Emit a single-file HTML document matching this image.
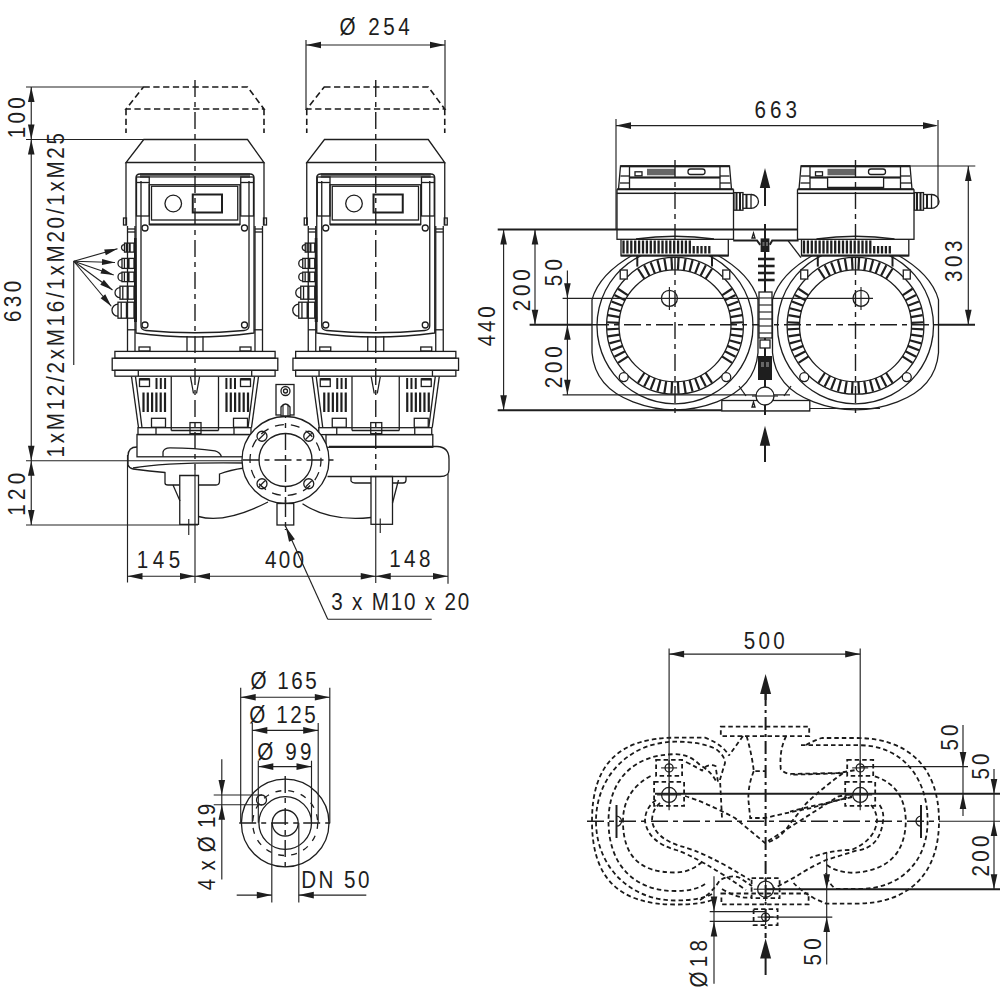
<!DOCTYPE html>
<html><head><meta charset="utf-8"><style>
html,body{margin:0;padding:0;background:#fff;}
svg{display:block;}
.t{fill:none;stroke:#1e1e1e;stroke-width:1.3;}
.tw{fill:#fff;stroke:#1e1e1e;stroke-width:1.3;}
.th{fill:none;stroke:#1e1e1e;stroke-width:2;}
.d{fill:none;stroke:#222;stroke-width:1.15;}
.c{fill:none;stroke:#1e1e1e;stroke-width:1.4;stroke-dasharray:17 5 5 5;}
.h{fill:none;stroke:#1a1a1a;stroke-width:1.8;stroke-dasharray:4.5 3;}
.g{fill:#666;stroke:none;}
.ch{fill:none;stroke:#1a1a1a;stroke-width:2;stroke-dasharray:13 4 3 4;}
.he{fill:none;stroke:#1a1a1a;stroke-width:1.6;stroke-dasharray:6.3 3.5;}
.ah{fill:#1e1e1e;stroke:none;}
.fb{fill:#1e1e1e;stroke:none;}
text{font-family:"Liberation Sans",sans-serif;fill:#1e1e1e;}
</style></head><body>
<svg width="1000" height="1000" viewBox="0 0 1000 1000">
<g id="motorL">
<path d="M143.5,87 L247.5,87 L264,109 L126,109 Z" class="he"/>
<line x1="126" y1="109" x2="126" y2="133" class="he"/>
<line x1="264" y1="109" x2="264" y2="133" class="he"/>
<path d="M143.75,139.5 L247.5,139.5 L264,162.5 L126,162.5 Z" class="t"/>
<line x1="126" y1="162.5" x2="126" y2="225" class="t"/>
<line x1="264" y1="162.5" x2="264" y2="225" class="t"/>
<rect x="123.5" y="218" width="3" height="7" class="t"/>
<rect x="263.5" y="218" width="3" height="7" class="t"/>
<line x1="127.5" y1="226" x2="127.5" y2="351" class="t"/>
<line x1="135" y1="226" x2="135" y2="351" class="t"/>
<line x1="255" y1="226" x2="255" y2="351" class="t"/>
<line x1="262.5" y1="226" x2="262.5" y2="351" class="t"/>
<line x1="127.5" y1="229" x2="135" y2="229" class="t"/>
<line x1="255" y1="229" x2="262.5" y2="229" class="t"/>
<line x1="127.5" y1="232" x2="135" y2="232" class="t"/>
<line x1="255" y1="232" x2="262.5" y2="232" class="t"/>
<path d="M136,333 L136,178 Q136,174 140,174 L250,174 Q254,174 254,178 L254,333 Q195,341 136,333 Z" class="t"/>
<path d="M141,181 L141,326 Q141,330 146,330.5 Q195,335 244,330.5 Q249,330 249,326 L249,181" class="t"/>
<rect x="140" y="174.2" width="110" height="3.6" class="g"/>
<line x1="140" y1="174.2" x2="250" y2="174.2" class="t"/>
<rect x="136.5" y="177" width="12.75" height="39" class="t"/>
<rect x="240.75" y="177" width="12.75" height="39" class="t"/>
<line x1="136.5" y1="182.5" x2="149.25" y2="182.5" class="t"/>
<line x1="240.75" y1="182.5" x2="253.5" y2="182.5" class="t"/>
<rect x="149.25" y="184.75" width="90.75" height="39.75" class="t"/>
<rect x="151.5" y="186.25" width="86.25" height="33.75" class="t"/>
<line x1="149.25" y1="224.5" x2="240" y2="224.5" class="th"/>
<circle cx="173.25" cy="203.5" r="8.3" class="t"/>
<rect x="192.75" y="194.5" width="29.25" height="18" class="th"/>
<circle cx="145" cy="228" r="3" class="t"/>
<circle cx="244.5" cy="228" r="3" class="t"/>
<circle cx="145" cy="325" r="3" class="t"/>
<circle cx="244.5" cy="325" r="3" class="t"/>
<line x1="187" y1="336" x2="187" y2="351" class="t"/>
<line x1="203" y1="336" x2="203" y2="351" class="t"/>
<rect x="139" y="347" width="11" height="4" class="t"/>
<rect x="240" y="347" width="11" height="4" class="t"/>
<path d="M124.5,244.6 A3,3 0 0 0 124.5,250.6" class="t"/>
<rect x="124.5" y="243.1" width="9.5" height="9" class="t"/>
<line x1="129.72" y1="243.1" x2="129.72" y2="252.1" class="th"/>
<line x1="126.4" y1="243.1" x2="126.4" y2="252.1" class="t"/>
<path d="M122,259.4 A4,4 0 0 0 122,267.4" class="t"/>
<rect x="122" y="258.4" width="12" height="10" class="t"/>
<line x1="128.6" y1="258.4" x2="128.6" y2="268.4" class="th"/>
<line x1="124.4" y1="258.4" x2="124.4" y2="268.4" class="t"/>
<path d="M122,272.9 A4,4 0 0 0 122,280.9" class="t"/>
<rect x="122" y="272.15" width="12" height="9.5" class="t"/>
<line x1="128.6" y1="272.15" x2="128.6" y2="281.65" class="th"/>
<line x1="124.4" y1="272.15" x2="124.4" y2="281.65" class="t"/>
<path d="M120,287.7 A5,5 0 0 0 120,297.7" class="t"/>
<rect x="120" y="286.2" width="14" height="13" class="t"/>
<line x1="127.7" y1="286.2" x2="127.7" y2="299.2" class="th"/>
<line x1="122.8" y1="286.2" x2="122.8" y2="299.2" class="t"/>
<path d="M118,304.2 A6,6 0 0 0 118,316.2" class="t"/>
<rect x="118" y="302.2" width="16" height="16" class="t"/>
<line x1="126.8" y1="302.2" x2="126.8" y2="318.2" class="th"/>
<line x1="121.2" y1="302.2" x2="121.2" y2="318.2" class="t"/>
<polygon points="134,238 136.5,238 137,322 134,322" class="fb"/>
<rect x="114.9" y="351.4" width="160.2" height="6.8" class="t"/>
<rect x="112.2" y="358.2" width="165.6" height="12.1" class="t"/>
<rect x="114.9" y="370.3" width="160.2" height="5.9" class="t"/>
<line x1="138.3" y1="370.3" x2="138.3" y2="376.2" class="t"/>
<line x1="251.7" y1="370.3" x2="251.7" y2="376.2" class="t"/>
<line x1="127.5" y1="329.8" x2="136" y2="329.8" class="t"/>
<line x1="254" y1="329.8" x2="262.5" y2="329.8" class="t"/>
<line x1="131.5" y1="376.6" x2="138.5" y2="427.7" class="t"/>
<line x1="135.5" y1="376.6" x2="142" y2="427.7" class="t"/>
<line x1="258.5" y1="376.6" x2="251.5" y2="427.7" class="t"/>
<line x1="254.5" y1="376.6" x2="248" y2="427.7" class="t"/>
<line x1="171.25" y1="376.6" x2="171.25" y2="430.5" class="t"/>
<line x1="218.5" y1="376.6" x2="218.5" y2="430.5" class="t"/>
<line x1="171.25" y1="430.5" x2="218.5" y2="430.5" class="t"/>
<line x1="143.5" y1="392.5" x2="143.5" y2="412" stroke="#1e1e1e" stroke-width="2.2"/>
<line x1="147.8" y1="392.5" x2="147.8" y2="412" stroke="#1e1e1e" stroke-width="2.2"/>
<line x1="152.1" y1="392.5" x2="152.1" y2="412" stroke="#1e1e1e" stroke-width="2.2"/>
<line x1="156.4" y1="392.5" x2="156.4" y2="412" stroke="#1e1e1e" stroke-width="2.2"/>
<line x1="160.7" y1="392.5" x2="160.7" y2="412" stroke="#1e1e1e" stroke-width="2.2"/>
<line x1="165" y1="392.5" x2="165" y2="412" stroke="#1e1e1e" stroke-width="2.2"/>
<line x1="156.5" y1="378" x2="156.5" y2="389" stroke="#1e1e1e" stroke-width="2"/>
<line x1="160.8" y1="378" x2="160.8" y2="389" stroke="#1e1e1e" stroke-width="2"/>
<line x1="165.1" y1="378" x2="165.1" y2="389" stroke="#1e1e1e" stroke-width="2"/>
<rect x="139.5" y="379" width="10" height="7.5" class="t"/>
<rect x="139.5" y="378" width="10" height="2.5" class="fb"/>
<rect x="151.5" y="418.3" width="14" height="9" class="t"/>
<line x1="248" y1="392.5" x2="248" y2="412" stroke="#1e1e1e" stroke-width="2.2"/>
<line x1="243.7" y1="392.5" x2="243.7" y2="412" stroke="#1e1e1e" stroke-width="2.2"/>
<line x1="239.4" y1="392.5" x2="239.4" y2="412" stroke="#1e1e1e" stroke-width="2.2"/>
<line x1="235.1" y1="392.5" x2="235.1" y2="412" stroke="#1e1e1e" stroke-width="2.2"/>
<line x1="230.8" y1="392.5" x2="230.8" y2="412" stroke="#1e1e1e" stroke-width="2.2"/>
<line x1="226.5" y1="392.5" x2="226.5" y2="412" stroke="#1e1e1e" stroke-width="2.2"/>
<line x1="235" y1="378" x2="235" y2="389" stroke="#1e1e1e" stroke-width="2"/>
<line x1="230.7" y1="378" x2="230.7" y2="389" stroke="#1e1e1e" stroke-width="2"/>
<line x1="226.4" y1="378" x2="226.4" y2="389" stroke="#1e1e1e" stroke-width="2"/>
<rect x="240.5" y="379" width="10" height="7.5" class="t"/>
<rect x="240.5" y="378" width="10" height="2.5" class="fb"/>
<rect x="233.5" y="418.3" width="14" height="9" class="t"/>
<line x1="190.5" y1="377" x2="193.5" y2="393.5" class="t"/>
<line x1="199.5" y1="377" x2="196.5" y2="393.5" class="t"/>
<rect x="138" y="427.7" width="113" height="6.9" class="t"/>
<line x1="156" y1="427.7" x2="156" y2="434.6" class="t"/>
<line x1="234" y1="427.7" x2="234" y2="434.6" class="t"/>
<rect x="190" y="422.6" width="11" height="11" class="t"/>
</g>
<use href="#motorL" transform="translate(180.75,0)"/>
<line x1="195" y1="80" x2="195" y2="470" class="c"/>
<line x1="375.75" y1="80" x2="375.75" y2="470" class="c"/>
<line x1="195" y1="470" x2="195" y2="583" class="d"/>
<line x1="375.75" y1="476" x2="375.75" y2="583" class="d"/>
<rect x="137" y="434.5" width="114" height="22.3" class="t"/>
<path d="M137,447 Q128,447 128,456 L128,465 Q129,468 133,469" class="t"/>
<path d="M163,456.8 L163,452 Q164,447.8 170,447.8 Q195,448 215,450.8 Q220,452 221.5,456.8" class="t"/>
<path d="M133,468 Q165,462 245,463" class="t"/>
<path d="M133,469 Q150,471 165,472.5 L165,483 Q165,485 168,485 L179.5,485" class="t"/>
<path d="M179.75,475.5 L179.75,524.3 L198.5,524.3 L198.5,475.5 Z" class="t"/>
<path d="M198.5,485 L216,485 Q219.5,485 219.5,481 L219.5,474 Q230,470 244,468" class="t"/>
<line x1="173" y1="485" x2="180" y2="501" class="t"/>
<path d="M198.5,516.5 Q225,524 268,502" class="t"/>
<line x1="188.75" y1="519" x2="188.75" y2="535" class="d"/>
<rect x="326" y="434.6" width="106.8" height="12.7" class="t"/>
<path d="M329,446.5 L437,446.5 Q449,447 449,459 L449,470 Q449,476.5 440,476.5 L327.5,476.5" class="t"/>
<path d="M351,476.5 L351,481 Q352,483 355,483 L371,483" class="t"/>
<rect x="371" y="476.5" width="21.5" height="47.8" class="t"/>
<path d="M392.5,483 L403,483 Q406,483 406,480 L406,476.5" class="t"/>
<line x1="398.5" y1="480" x2="392.5" y2="503" class="t"/>
<path d="M302.5,503.8 Q330,522 371,517.5" class="t"/>
<line x1="380.25" y1="518.4" x2="380.25" y2="533.1" class="d"/>
<circle cx="285.5" cy="460" r="43.5" class="tw"/>
<circle cx="285.5" cy="460" r="26.5" class="t"/>
<circle cx="285.5" cy="460" r="35.5" fill="none" stroke="#1e1e1e" stroke-width="1.3" stroke-dasharray="9 7" transform="rotate(20 285.5 460)"/>
<circle cx="262" cy="436.25" r="5" class="t"/>
<line x1="259" y1="439.25" x2="265" y2="433.25" class="d"/>
<circle cx="308.75" cy="436.25" r="5" class="t"/>
<line x1="305.75" y1="439.25" x2="311.75" y2="433.25" class="d"/>
<circle cx="262" cy="483.75" r="5" class="t"/>
<line x1="259" y1="486.75" x2="265" y2="480.75" class="d"/>
<circle cx="308.75" cy="483.75" r="5" class="t"/>
<line x1="305.75" y1="486.75" x2="311.75" y2="480.75" class="d"/>
<line x1="242.5" y1="460" x2="336" y2="460" class="c"/>
<line x1="285.5" y1="401" x2="285.5" y2="530" class="c"/>
<rect x="276" y="384.5" width="18" height="30.5" class="tw"/>
<circle cx="285.5" cy="391" r="4.5" class="t"/>
<circle cx="285.5" cy="391" r="2" class="t"/>
<path d="M281,416 L281,407 Q285.5,401 290,407 L290,416 Z" class="tw"/>
<line x1="283" y1="405" x2="283" y2="416" class="d"/>
<line x1="288" y1="405" x2="288" y2="416" class="d"/>
<rect x="277" y="503.5" width="16.75" height="21.5" class="tw"/>
<line x1="285.5" y1="500" x2="285.5" y2="530" class="c"/>
<line x1="26" y1="87" x2="143" y2="87" class="d"/>
<line x1="26" y1="139.5" x2="144" y2="139.5" class="d"/>
<line x1="26" y1="460.75" x2="242" y2="460.75" class="d"/>
<line x1="26" y1="525" x2="198" y2="525" class="d"/>
<line x1="31.25" y1="87" x2="31.25" y2="525" class="d"/>
<polygon points="31.25,87 27.95,102 34.55,102" class="ah"/>
<polygon points="31.25,139.5 27.95,124.5 34.55,124.5" class="ah"/>
<polygon points="31.25,139.5 27.95,154.5 34.55,154.5" class="ah"/>
<polygon points="31.25,460.75 27.95,445.75 34.55,445.75" class="ah"/>
<polygon points="31.25,460.75 27.95,475.75 34.55,475.75" class="ah"/>
<polygon points="31.25,525 27.95,510 34.55,510" class="ah"/>
<line x1="73.75" y1="261.25" x2="73.75" y2="365" class="d"/>
<line x1="73.75" y1="261.25" x2="117.5" y2="248.75" class="d"/>
<polygon points="117.5,248.75 105.82,255.21 104.18,249.44" class="ah"/>
<line x1="73.75" y1="261.25" x2="115" y2="262.5" class="d"/>
<polygon points="115,262.5 101.92,265.1 102.1,259.11" class="ah"/>
<line x1="73.75" y1="261.25" x2="113.75" y2="275" class="d"/>
<polygon points="113.75,275 100.48,273.61 102.43,267.94" class="ah"/>
<line x1="73.75" y1="261.25" x2="112.5" y2="290" class="d"/>
<polygon points="112.5,290 100.27,284.66 103.85,279.84" class="ah"/>
<line x1="73.75" y1="261.25" x2="111.25" y2="306.25" class="d"/>
<polygon points="111.25,306.25 100.62,298.18 105.23,294.34" class="ah"/>
<line x1="127.5" y1="455" x2="127.5" y2="582.5" class="d"/>
<line x1="448" y1="474" x2="448" y2="583.75" class="d"/>
<line x1="127.5" y1="576.25" x2="448" y2="576.25" class="d"/>
<polygon points="127.5,576.25 142.5,572.95 142.5,579.55" class="ah"/>
<polygon points="195,576.25 180,572.95 180,579.55" class="ah"/>
<polygon points="195,576.25 210,572.95 210,579.55" class="ah"/>
<polygon points="375.75,576.25 360.75,572.95 360.75,579.55" class="ah"/>
<polygon points="375.75,576.25 390.75,572.95 390.75,579.55" class="ah"/>
<polygon points="448,576.25 433,572.95 433,579.55" class="ah"/>
<line x1="306" y1="40" x2="306" y2="110" class="d"/>
<line x1="445" y1="40" x2="445" y2="110" class="d"/>
<line x1="306" y1="45" x2="445" y2="45" class="d"/>
<polygon points="306,45 321,41.7 321,48.3" class="ah"/>
<polygon points="445,45 430,41.7 430,48.3" class="ah"/>
<line x1="285.75" y1="526.8" x2="327.75" y2="619.2" class="d"/>
<line x1="327.75" y1="619.2" x2="431.7" y2="619.2" class="d"/>
<polygon points="285.75,526.8 294.87,539.13 289.04,541.78" class="ah"/>
<g id="motorT">
<path d="M635,253.8 Q599,273.8 592,299.8 L592,352.8 Q595,387.8 633,401.8 Q675,417.8 717,401.8 Q755,387.8 758,352.8 L758,299.8 Q751,273.8 715,253.8" class="t"/>
<path d="M707.96,255.11 A78,78 0 1 1 642.04,255.11" class="t"/>
<circle cx="675" cy="325.8" r="68.4" class="t"/>
<circle cx="675" cy="325.8" r="56" class="t"/>
<line x1="730.92" y1="328.73" x2="742.91" y2="329.36" stroke="#1e1e1e" stroke-width="2.2"/>
<line x1="730.31" y1="334.56" x2="742.16" y2="336.44" stroke="#1e1e1e" stroke-width="2.2"/>
<line x1="729.09" y1="340.29" x2="740.68" y2="343.4" stroke="#1e1e1e" stroke-width="2.2"/>
<line x1="727.28" y1="345.87" x2="738.48" y2="350.17" stroke="#1e1e1e" stroke-width="2.2"/>
<line x1="724.9" y1="351.22" x2="735.59" y2="356.67" stroke="#1e1e1e" stroke-width="2.2"/>
<line x1="721.97" y1="356.3" x2="732.03" y2="362.84" stroke="#1e1e1e" stroke-width="2.2"/>
<line x1="705.5" y1="372.77" x2="712.04" y2="382.83" stroke="#1e1e1e" stroke-width="2.2"/>
<line x1="700.42" y1="375.7" x2="705.87" y2="386.39" stroke="#1e1e1e" stroke-width="2.2"/>
<line x1="695.07" y1="378.08" x2="699.37" y2="389.28" stroke="#1e1e1e" stroke-width="2.2"/>
<line x1="689.49" y1="379.89" x2="692.6" y2="391.48" stroke="#1e1e1e" stroke-width="2.2"/>
<line x1="683.76" y1="381.11" x2="685.64" y2="392.96" stroke="#1e1e1e" stroke-width="2.2"/>
<line x1="677.93" y1="381.72" x2="678.56" y2="393.71" stroke="#1e1e1e" stroke-width="2.2"/>
<line x1="672.07" y1="381.72" x2="671.44" y2="393.71" stroke="#1e1e1e" stroke-width="2.2"/>
<line x1="666.24" y1="381.11" x2="664.36" y2="392.96" stroke="#1e1e1e" stroke-width="2.2"/>
<line x1="660.51" y1="379.89" x2="657.4" y2="391.48" stroke="#1e1e1e" stroke-width="2.2"/>
<line x1="654.93" y1="378.08" x2="650.63" y2="389.28" stroke="#1e1e1e" stroke-width="2.2"/>
<line x1="649.58" y1="375.7" x2="644.13" y2="386.39" stroke="#1e1e1e" stroke-width="2.2"/>
<line x1="644.5" y1="372.77" x2="637.96" y2="382.83" stroke="#1e1e1e" stroke-width="2.2"/>
<line x1="628.03" y1="356.3" x2="617.97" y2="362.84" stroke="#1e1e1e" stroke-width="2.2"/>
<line x1="625.1" y1="351.22" x2="614.41" y2="356.67" stroke="#1e1e1e" stroke-width="2.2"/>
<line x1="622.72" y1="345.87" x2="611.52" y2="350.17" stroke="#1e1e1e" stroke-width="2.2"/>
<line x1="620.91" y1="340.29" x2="609.32" y2="343.4" stroke="#1e1e1e" stroke-width="2.2"/>
<line x1="619.69" y1="334.56" x2="607.84" y2="336.44" stroke="#1e1e1e" stroke-width="2.2"/>
<line x1="619.08" y1="328.73" x2="607.09" y2="329.36" stroke="#1e1e1e" stroke-width="2.2"/>
<line x1="619.08" y1="322.87" x2="607.09" y2="322.24" stroke="#1e1e1e" stroke-width="2.2"/>
<line x1="619.69" y1="317.04" x2="607.84" y2="315.16" stroke="#1e1e1e" stroke-width="2.2"/>
<line x1="620.91" y1="311.31" x2="609.32" y2="308.2" stroke="#1e1e1e" stroke-width="2.2"/>
<line x1="622.72" y1="305.73" x2="611.52" y2="301.43" stroke="#1e1e1e" stroke-width="2.2"/>
<line x1="625.1" y1="300.38" x2="614.41" y2="294.93" stroke="#1e1e1e" stroke-width="2.2"/>
<line x1="628.03" y1="295.3" x2="617.97" y2="288.76" stroke="#1e1e1e" stroke-width="2.2"/>
<line x1="644.5" y1="278.83" x2="637.96" y2="268.77" stroke="#1e1e1e" stroke-width="2.2"/>
<line x1="649.58" y1="275.9" x2="644.13" y2="265.21" stroke="#1e1e1e" stroke-width="2.2"/>
<line x1="654.93" y1="273.52" x2="650.63" y2="262.32" stroke="#1e1e1e" stroke-width="2.2"/>
<line x1="660.51" y1="271.71" x2="657.4" y2="260.12" stroke="#1e1e1e" stroke-width="2.2"/>
<line x1="666.24" y1="270.49" x2="664.36" y2="258.64" stroke="#1e1e1e" stroke-width="2.2"/>
<line x1="672.07" y1="269.88" x2="671.44" y2="257.89" stroke="#1e1e1e" stroke-width="2.2"/>
<line x1="677.93" y1="269.88" x2="678.56" y2="257.89" stroke="#1e1e1e" stroke-width="2.2"/>
<line x1="683.76" y1="270.49" x2="685.64" y2="258.64" stroke="#1e1e1e" stroke-width="2.2"/>
<line x1="689.49" y1="271.71" x2="692.6" y2="260.12" stroke="#1e1e1e" stroke-width="2.2"/>
<line x1="695.07" y1="273.52" x2="699.37" y2="262.32" stroke="#1e1e1e" stroke-width="2.2"/>
<line x1="700.42" y1="275.9" x2="705.87" y2="265.21" stroke="#1e1e1e" stroke-width="2.2"/>
<line x1="705.5" y1="278.83" x2="712.04" y2="268.77" stroke="#1e1e1e" stroke-width="2.2"/>
<line x1="721.97" y1="295.3" x2="732.03" y2="288.76" stroke="#1e1e1e" stroke-width="2.2"/>
<line x1="724.9" y1="300.38" x2="735.59" y2="294.93" stroke="#1e1e1e" stroke-width="2.2"/>
<line x1="727.28" y1="305.73" x2="738.48" y2="301.43" stroke="#1e1e1e" stroke-width="2.2"/>
<line x1="729.09" y1="311.31" x2="740.68" y2="308.2" stroke="#1e1e1e" stroke-width="2.2"/>
<line x1="730.31" y1="317.04" x2="742.16" y2="315.16" stroke="#1e1e1e" stroke-width="2.2"/>
<line x1="730.92" y1="322.87" x2="742.91" y2="322.24" stroke="#1e1e1e" stroke-width="2.2"/>
<rect x="620.23" y="270.03" width="7" height="9" class="tw"/>
<rect x="722.77" y="270.03" width="7" height="9" class="tw"/>
<circle cx="623.73" cy="377.07" r="4.5" class="tw"/>
<circle cx="726.27" cy="377.07" r="4.5" class="tw"/>
<rect x="621" y="239.3" width="107.3" height="16.5" class="tw"/>
<line x1="623.5" y1="240.5" x2="623.5" y2="253.5" stroke="#1e1e1e" stroke-width="2.3"/>
<line x1="627.4" y1="240.5" x2="627.4" y2="253.5" stroke="#1e1e1e" stroke-width="2.3"/>
<line x1="631.3" y1="240.5" x2="631.3" y2="253.5" stroke="#1e1e1e" stroke-width="2.3"/>
<line x1="635.2" y1="240.5" x2="635.2" y2="253.5" stroke="#1e1e1e" stroke-width="2.3"/>
<line x1="639.1" y1="240.5" x2="639.1" y2="253.5" stroke="#1e1e1e" stroke-width="2.3"/>
<line x1="643" y1="240.5" x2="643" y2="253.5" stroke="#1e1e1e" stroke-width="2.3"/>
<line x1="646.9" y1="240.5" x2="646.9" y2="253.5" stroke="#1e1e1e" stroke-width="2.3"/>
<line x1="650.8" y1="240.5" x2="650.8" y2="253.5" stroke="#1e1e1e" stroke-width="2.3"/>
<line x1="654.7" y1="240.5" x2="654.7" y2="253.5" stroke="#1e1e1e" stroke-width="2.3"/>
<line x1="658.6" y1="240.5" x2="658.6" y2="253.5" stroke="#1e1e1e" stroke-width="2.3"/>
<line x1="662.5" y1="240.5" x2="662.5" y2="253.5" stroke="#1e1e1e" stroke-width="2.3"/>
<line x1="666.4" y1="240.5" x2="666.4" y2="253.5" stroke="#1e1e1e" stroke-width="2.3"/>
<line x1="670.3" y1="240.5" x2="670.3" y2="253.5" stroke="#1e1e1e" stroke-width="2.3"/>
<line x1="674.2" y1="240.5" x2="674.2" y2="253.5" stroke="#1e1e1e" stroke-width="2.3"/>
<line x1="678.1" y1="240.5" x2="678.1" y2="253.5" stroke="#1e1e1e" stroke-width="2.3"/>
<line x1="682" y1="240.5" x2="682" y2="253.5" stroke="#1e1e1e" stroke-width="2.3"/>
<line x1="685.9" y1="240.5" x2="685.9" y2="253.5" stroke="#1e1e1e" stroke-width="2.3"/>
<line x1="689.8" y1="240.5" x2="689.8" y2="253.5" stroke="#1e1e1e" stroke-width="2.3"/>
<line x1="693.7" y1="246" x2="693.7" y2="253.5" stroke="#1e1e1e" stroke-width="2.3"/>
<line x1="697.6" y1="246" x2="697.6" y2="253.5" stroke="#1e1e1e" stroke-width="2.3"/>
<line x1="701.5" y1="246" x2="701.5" y2="253.5" stroke="#1e1e1e" stroke-width="2.3"/>
<line x1="705.4" y1="246" x2="705.4" y2="253.5" stroke="#1e1e1e" stroke-width="2.3"/>
<line x1="709.3" y1="246" x2="709.3" y2="253.5" stroke="#1e1e1e" stroke-width="2.3"/>
<line x1="621" y1="255.5" x2="728.3" y2="255.5" class="th"/>
<line x1="637.3" y1="255" x2="637.3" y2="266.6" class="th"/>
<line x1="712" y1="255" x2="712" y2="266.6" class="th"/>
<rect x="617" y="193.4" width="116.5" height="45.9" class="tw"/>
<path d="M620.5,165.9 L729.5,165.9 L731.5,189.2 L618.5,189.2 Z" class="tw"/>
<line x1="617" y1="189.2" x2="733.5" y2="189.2" class="th"/>
<line x1="617" y1="193.4" x2="733.5" y2="193.4" class="t"/>
<path d="M617,189.2 L617,193.4 M733.5,189.2 L733.5,193.4" class="t"/>
<rect x="629.5" y="166.5" width="90.5" height="11" class="t"/>
<line x1="629.5" y1="177.5" x2="720" y2="177.5" class="th"/>
<line x1="620.5" y1="166.3" x2="729.5" y2="166.3" class="th"/>
<line x1="629.5" y1="177.5" x2="629.5" y2="189.2" class="t"/>
<line x1="720" y1="177.5" x2="720" y2="189.2" class="t"/>
<line x1="620.5" y1="176" x2="629.5" y2="176" class="t"/>
<line x1="720" y1="176" x2="729.5" y2="176" class="t"/>
<line x1="620" y1="183" x2="629.5" y2="183" class="t"/>
<line x1="720" y1="183" x2="730.5" y2="183" class="t"/>
<rect x="635" y="171.8" width="7" height="4" class="t"/>
<rect x="647" y="168.8" width="28" height="6.5" class="g"/>
<rect x="688" y="169" width="17" height="5.5" class="t" rx="2.5"/>
<path d="M636,239 Q675,233.5 714,239" class="t"/>
<rect x="734" y="192.6" width="9" height="17.6" class="tw"/>
<rect x="743" y="194.5" width="8" height="13.8" class="tw"/>
<path d="M751,194.5 A7.5,6.9 0 0 1 751,208.3" class="t"/>
<line x1="736.5" y1="192.6" x2="736.5" y2="210.2" class="th"/>
<line x1="740" y1="192.6" x2="740" y2="210.2" class="th"/>
<line x1="746.5" y1="194.5" x2="746.5" y2="208.3" class="th"/>
</g>
<use href="#motorT" transform="translate(180.5,0)"/>
<rect x="827.6" y="177.4" width="56" height="10.4" class="tw"/>
<line x1="827.6" y1="187.8" x2="883.6" y2="187.8" class="th"/>
<circle cx="669.4" cy="298.3" r="8" class="t"/>
<line x1="669.4" y1="287" x2="669.4" y2="310" class="d"/>
<circle cx="861" cy="298.3" r="8" class="t"/>
<line x1="861" y1="287" x2="861" y2="310" class="d"/>
<line x1="675" y1="258" x2="675" y2="415" class="c"/>
<line x1="855.5" y1="258" x2="855.5" y2="415" class="c"/>
<line x1="675" y1="160" x2="675" y2="240" class="c"/>
<line x1="855.5" y1="160" x2="855.5" y2="240" class="c"/>
<line x1="497.7" y1="229.5" x2="797" y2="229.5" class="th"/>
<line x1="562.6" y1="298.3" x2="873" y2="298.3" class="d"/>
<line x1="529.6" y1="324.8" x2="592" y2="324.8" class="th"/>
<line x1="592" y1="324.8" x2="938" y2="324.8" class="c"/>
<line x1="938" y1="324.8" x2="975" y2="324.8" class="th"/>
<line x1="562.6" y1="394.8" x2="790" y2="394.8" class="d"/>
<line x1="497.7" y1="410.2" x2="810" y2="410.2" class="th"/>
<line x1="810" y1="408.5" x2="880" y2="408.5" class="d"/>
<rect x="721.8" y="400.5" width="88" height="10.4" class="tw"/>
<line x1="765" y1="224" x2="765" y2="415" class="th"/>
<path d="M733.2,240.4 L757,240.4 L760.2,244.8 M769.8,244.8 L772.2,240.4 L798.6,240.4" class="th"/>
<rect x="760.6" y="238.4" width="8.8" height="13.6" class="fb"/>
<rect x="762.5" y="242" width="2" height="4" class="g"/>
<rect x="766" y="242" width="2" height="4" class="g"/>
<path d="M752,238 L753.5,233 L755,238 Z" class="t"/>
<line x1="758" y1="259" x2="774.6" y2="259" stroke="#1e1e1e" stroke-width="2.6"/>
<line x1="758" y1="266" x2="774.6" y2="266" stroke="#1e1e1e" stroke-width="2.6"/>
<line x1="758" y1="273" x2="774.6" y2="273" stroke="#1e1e1e" stroke-width="2.6"/>
<line x1="758" y1="280" x2="774.6" y2="280" stroke="#1e1e1e" stroke-width="2.6"/>
<line x1="788.2" y1="240.8" x2="801" y2="257.6" class="t"/>
<rect x="759" y="292" width="13" height="46" class="tw"/>
<line x1="759" y1="298" x2="772" y2="298" class="d"/>
<line x1="759" y1="305" x2="772" y2="305" class="d"/>
<line x1="759" y1="312" x2="772" y2="312" class="d"/>
<line x1="759" y1="319" x2="772" y2="319" class="d"/>
<line x1="759" y1="326" x2="772" y2="326" class="d"/>
<line x1="759" y1="333" x2="772" y2="333" class="d"/>
<rect x="760" y="340" width="10" height="8" class="tw"/>
<rect x="758" y="356" width="14" height="24" class="fb"/>
<rect x="761" y="362" width="3" height="5" class="g"/>
<rect x="766" y="362" width="3" height="5" class="g"/>
<circle cx="765" cy="396" r="9" class="tw"/>
<line x1="752" y1="396" x2="778" y2="396" class="d"/>
<line x1="739" y1="386" x2="746" y2="396" class="t"/>
<line x1="791" y1="386" x2="784" y2="396" class="t"/>
<path d="M752,407 L753.5,402 L755,407 Z" class="t"/>
<polygon points="765,168 759.8,188 770.2,188" class="ah"/>
<line x1="765" y1="185" x2="765" y2="206" class="th"/>
<polygon points="765,425.8 759.8,445.8 770.2,445.8" class="ah"/>
<line x1="765" y1="440" x2="765" y2="462" class="th"/>
<line x1="616" y1="119" x2="616" y2="229.5" class="d"/>
<line x1="938" y1="120" x2="938" y2="204.4" class="d"/>
<line x1="616" y1="125.6" x2="936.3" y2="125.6" class="d"/>
<polygon points="616,125.6 631,122.3 631,128.9" class="ah"/>
<polygon points="938,125.6 923,122.3 923,128.9" class="ah"/>
<line x1="890" y1="166" x2="975.3" y2="166" class="d"/>
<line x1="968.3" y1="166" x2="968.3" y2="324.8" class="d"/>
<polygon points="968.3,166 965,181 971.6,181" class="ah"/>
<polygon points="968.3,324.8 965,309.8 971.6,309.8" class="ah"/>
<line x1="503.6" y1="229.5" x2="503.6" y2="410.2" class="d"/>
<polygon points="503.6,229.5 500.3,244.5 506.9,244.5" class="ah"/>
<polygon points="503.6,410.2 500.3,395.2 506.9,395.2" class="ah"/>
<line x1="535" y1="229.5" x2="535" y2="324.8" class="d"/>
<polygon points="535,229.5 531.7,244.5 538.3,244.5" class="ah"/>
<polygon points="535,324.8 531.7,309.8 538.3,309.8" class="ah"/>
<line x1="567.4" y1="270.6" x2="567.4" y2="394.8" class="d"/>
<polygon points="567.4,298.3 564.1,283.3 570.7,283.3" class="ah"/>
<polygon points="567.4,324.8 564.1,339.8 570.7,339.8" class="ah"/>
<polygon points="567.4,394.8 564.1,379.8 570.7,379.8" class="ah"/>
<circle cx="285.2" cy="823" r="43.8" class="t"/>
<circle cx="285.2" cy="823" r="26.3" class="t"/>
<circle cx="285.2" cy="823" r="13" class="t"/>
<circle cx="285.2" cy="823" r="32.5" fill="none" stroke="#1e1e1e" stroke-width="1.3" stroke-dasharray="6 7"/>
<circle cx="261.5" cy="800" r="5" class="t"/>
<line x1="239.2" y1="823" x2="331.2" y2="823" class="c"/>
<line x1="285.2" y1="776" x2="285.2" y2="870" class="c"/>
<line x1="240.7" y1="687.8" x2="240.7" y2="822.8" class="d"/>
<line x1="329.8" y1="687.8" x2="329.8" y2="822.8" class="d"/>
<line x1="240.7" y1="697.2" x2="329.8" y2="697.2" class="d"/>
<polygon points="240.7,697.2 255.7,693.9 255.7,700.5" class="ah"/>
<polygon points="329.8,697.2 314.8,693.9 314.8,700.5" class="ah"/>
<line x1="252.3" y1="722.9" x2="252.3" y2="822.8" class="d"/>
<line x1="318.2" y1="722.9" x2="318.2" y2="822.8" class="d"/>
<line x1="252.3" y1="730.4" x2="318.2" y2="730.4" class="d"/>
<polygon points="252.3,730.4 267.3,727.1 267.3,733.7" class="ah"/>
<polygon points="318.2,730.4 303.2,727.1 303.2,733.7" class="ah"/>
<line x1="258.3" y1="760.7" x2="258.3" y2="822.8" class="d"/>
<line x1="311.5" y1="760.7" x2="311.5" y2="822.8" class="d"/>
<line x1="258.3" y1="766.6" x2="311.5" y2="766.6" class="d"/>
<polygon points="258.3,766.6 273.3,763.3 273.3,769.9" class="ah"/>
<polygon points="311.5,766.6 296.5,763.3 296.5,769.9" class="ah"/>
<line x1="213.7" y1="795" x2="262" y2="795" class="d"/>
<line x1="213.7" y1="804.7" x2="262" y2="804.7" class="d"/>
<line x1="221.8" y1="759.3" x2="221.8" y2="879.5" class="d"/>
<polygon points="221.8,795 218.5,780 225.1,780" class="ah"/>
<polygon points="221.8,804.7 218.5,819.7 225.1,819.7" class="ah"/>
<line x1="271.8" y1="822.8" x2="271.8" y2="902.4" class="d"/>
<line x1="298.8" y1="822.8" x2="298.8" y2="902.4" class="d"/>
<line x1="236.7" y1="895.1" x2="271.8" y2="895.1" class="d"/>
<line x1="298.8" y1="895.1" x2="366.3" y2="895.1" class="d"/>
<polygon points="271.8,895.1 256.8,891.8 256.8,898.4" class="ah"/>
<polygon points="298.8,895.1 313.8,891.8 313.8,898.4" class="ah"/>
<path d="M712,900 Q700,904.5 675.5,904.5 C618.72,904.7 592,877.98 592,821.2 C592,764.42 618.72,737.7 675.5,737.7 L705,737.7 Q722,744 729,755.5" class="h"/>
<path d="M712,894 Q700,900.5 675.5,900.5 C630.18,900.7 596,866.52 596,821.2 C596,775.88 630.18,741.7 675.5,741.7 Q700,741.5 716,749 Q725,756 725,763 L720,779.5 L722,818" class="h"/>
<path d="M705,884 Q695,891 675.5,891 C633.96,891.2 608.5,864.6 608.5,821.2 C608.5,779.66 633.96,754.2 675.5,754.2 Q690,754.5 700,765 Q712,772 717,783" class="h"/>
<path d="M702,862 Q690,872.5 675.5,872.5 C639.8,872.7 623,856.22 623,821.2 Q623,790 652.5,775" class="h"/>
<path d="M656,800 Q645,808 645,821 Q648,842 676,850 Q700,858 746,890" class="h"/>
<path d="M660,803 Q652,810 652,821 Q655,838 680,846 Q705,852 750,880" class="h"/>
<path d="M686,762 Q698,768 702,770.5 Q707,763 715.5,766 L718,782" class="h"/>
<path d="M685,796 Q705,802 735,818 L765,843 L838.4,796.4 L852,794" class="h"/>
<path d="M743,736 L729,755.5" class="h"/>
<path d="M746.6,736 Q752,755 753.8,771.2 L765,771.2" class="h"/>
<path d="M753.8,771.2 Q748,785 748.4,800 L750.2,818 L765,818 Q790,812 811.4,808 L852,796" class="h"/>
<path d="M786.2,736 Q779,750 780.8,769.4 Q785,774 791.6,773.9 L838.4,773 L856,770" class="h"/>
<path d="M793.6,883 Q800,890 814,898.3 L826,903.6 L856,903.6 C909.12,903.6 939,873.86 939,821 C939,767.88 909.12,738 856,738 L822,738 Q815,740 806,745" class="h"/>
<path d="M801,745.2 L858.8,745.2 C900.2,745.2 927.6,775.4 927.6,821 C927.6,861.8 900.2,889 858.8,889 L836,889 Q828,884 826,872.8" class="h"/>
<path d="M874.8,776.4 Q905.2,786 905.8,821 Q905,870 853,872.8 Q835,872 826,864.3" class="h"/>
<path d="M879.6,805 Q884.4,812 883,821 Q880,848 856,850.7 L826,860 Q805,870 797,876 L773,889" class="h"/>
<path d="M871,805 Q877,812 877,821 Q875,840 851.4,850 Q830,850 810,858" class="h"/>
<path d="M852,797 L802.8,808.4 L790,811.6" class="h"/>
<path d="M842.8,773.2 Q820,790 806,803.6 Q797,815 790,823.6 Q780,840 765,843" class="h"/>
<path d="M842.8,773.2 L790,774.8" class="h"/>
<path d="M700,900 Q712,893 720,880 Q732,874 740,878 L752,886" class="h"/>
<path d="M722,889 Q740,900 752,897" class="h"/>
<path d="M721.4,893.5 L808.6,893.5 L808.6,904.3 L721.4,904.3 Z" class="h"/>
<path d="M720.8,726.7 L809.2,726.7 L809.2,736.1 L720.8,736.1 Z" class="h"/>
<rect x="656.1" y="759.9" width="26" height="16" class="h"/>
<rect x="847.2" y="759.9" width="26" height="16" class="h"/>
<rect x="654.1" y="781.9" width="30" height="24" class="h"/>
<rect x="845.2" y="781.9" width="30" height="24" class="h"/>
<rect x="751.6" y="878.2" width="28" height="20" class="h"/>
<rect x="753.6" y="909.1" width="24" height="16" class="h"/>
<circle cx="669.1" cy="767.9" r="4" class="t"/>
<circle cx="669.1" cy="794.9" r="7.5" class="t"/>
<circle cx="860.2" cy="767.9" r="4" class="t"/>
<circle cx="860.2" cy="794.9" r="7.5" class="t"/>
<circle cx="765.6" cy="889.2" r="8" class="t"/>
<circle cx="765.6" cy="917.1" r="4" class="t"/>
<line x1="661.1" y1="767.9" x2="677.1" y2="767.9" class="d"/>
<line x1="669.1" y1="759.9" x2="669.1" y2="775.9" class="d"/>
<line x1="657.1" y1="794.9" x2="681.1" y2="794.9" class="d"/>
<line x1="669.1" y1="782.9" x2="669.1" y2="806.9" class="d"/>
<line x1="852.2" y1="767.9" x2="868.2" y2="767.9" class="d"/>
<line x1="860.2" y1="759.9" x2="860.2" y2="775.9" class="d"/>
<line x1="848.2" y1="794.9" x2="872.2" y2="794.9" class="d"/>
<line x1="860.2" y1="782.9" x2="860.2" y2="806.9" class="d"/>
<line x1="753.6" y1="889.2" x2="777.6" y2="889.2" class="d"/>
<line x1="765.6" y1="877.2" x2="765.6" y2="901.2" class="d"/>
<line x1="757.6" y1="917.1" x2="773.6" y2="917.1" class="d"/>
<line x1="765.6" y1="909.1" x2="765.6" y2="925.1" class="d"/>
<line x1="616.5" y1="805" x2="616.5" y2="838" class="th"/>
<path d="M616.5,816.2 A5,5 0 0 1 616.5,826.2" class="t"/>
<line x1="921" y1="805" x2="921" y2="838" class="th"/>
<path d="M921,816.2 A5,5 0 0 0 921,826.2" class="t"/>
<line x1="587" y1="821.2" x2="940" y2="821.2" class="c"/>
<line x1="940" y1="821.2" x2="1000" y2="821.2" class="d"/>
<line x1="765.6" y1="693" x2="765.6" y2="938" class="ch"/>
<line x1="669.1" y1="648.6" x2="669.1" y2="810.3" class="d"/>
<line x1="860.2" y1="648.6" x2="860.2" y2="810.3" class="d"/>
<line x1="669.1" y1="654.1" x2="860.2" y2="654.1" class="d"/>
<polygon points="669.1,654.1 684.1,650.8 684.1,657.4" class="ah"/>
<polygon points="860.2,654.1 845.2,650.8 845.2,657.4" class="ah"/>
<polygon points="765.6,673.9 760.1,693.9 771.1,693.9" class="ah"/>
<line x1="765.6" y1="690" x2="765.6" y2="700" class="th"/>
<polygon points="765.6,938.6 760.1,958.6 771.1,958.6" class="ah"/>
<line x1="765.6" y1="955" x2="765.6" y2="975" class="th"/>
<line x1="860" y1="766.6" x2="968" y2="766.6" class="d"/>
<line x1="655" y1="793.7" x2="1000" y2="793.7" class="th"/>
<line x1="765" y1="889.2" x2="1000" y2="889.2" class="th"/>
<line x1="963" y1="725" x2="963" y2="816" class="d"/>
<polygon points="963,767 959.7,752 966.3,752" class="ah"/>
<polygon points="963,794 959.7,809 966.3,809" class="ah"/>
<line x1="994" y1="769" x2="994" y2="889.2" class="d"/>
<polygon points="994,794 990.7,779 997.3,779" class="ah"/>
<polygon points="994,821 990.7,836 997.3,836" class="ah"/>
<polygon points="994,889.2 990.7,874.2 997.3,874.2" class="ah"/>
<line x1="709.7" y1="911.6" x2="765.6" y2="911.6" class="d"/>
<line x1="709.7" y1="921.4" x2="765.6" y2="921.4" class="d"/>
<line x1="714" y1="876.3" x2="714" y2="983.8" class="d"/>
<polygon points="714,911.6 710.7,896.6 717.3,896.6" class="ah"/>
<polygon points="714,921.4 710.7,936.4 717.3,936.4" class="ah"/>
<line x1="765.6" y1="917.1" x2="832.3" y2="917.1" class="d"/>
<line x1="826.7" y1="852.6" x2="826.7" y2="964.4" class="d"/>
<polygon points="826.7,889.2 823.4,874.2 830,874.2" class="ah"/>
<polygon points="826.7,917.1 823.4,932.1 830,932.1" class="ah"/>
<text x="0" y="0" font-size="24" letter-spacing="4.04" transform="translate(339.5,35.25) scale(0.86,1)">Ø 254</text>
<text x="0" y="0" font-size="24" letter-spacing="3.88" transform="translate(24.75,138.25) rotate(-90) scale(0.86,1)">100</text>
<text x="0" y="0" font-size="24" letter-spacing="4.04" transform="translate(21.38,322.12) rotate(-90) scale(0.86,1)">630</text>
<text x="0" y="0" font-size="24" letter-spacing="5.04" transform="translate(24.5,515.75) rotate(-90) scale(0.86,1)">120</text>
<text x="0" y="0" font-size="24" letter-spacing="3.14" transform="translate(63.879999999999995,457.38) rotate(-90) scale(0.86,1)">1xM12/2xM16/1xM20/1xM25</text>
<text x="0" y="0" font-size="24" letter-spacing="5.19" transform="translate(136.75,567.73) scale(0.86,1)">145</text>
<text x="0" y="0" font-size="24" letter-spacing="2.72" transform="translate(264.88,567.83) scale(0.86,1)">400</text>
<text x="0" y="0" font-size="24" letter-spacing="4.03" transform="translate(389.18,567.05) scale(0.86,1)">148</text>
<text x="0" y="0" font-size="24" letter-spacing="2.11" transform="translate(331.2,610.4) scale(0.86,1)">3 x M10 x 20</text>
<text x="0" y="0" font-size="24" letter-spacing="4.61" transform="translate(754.5,118.35) scale(0.86,1)">663</text>
<text x="0" y="0" font-size="24" letter-spacing="4.03" transform="translate(961.65,282.0) rotate(-90) scale(0.86,1)">303</text>
<text x="0" y="0" font-size="24" letter-spacing="3.3" transform="translate(495.1,346.3) rotate(-90) scale(0.86,1)">440</text>
<text x="0" y="0" font-size="24" letter-spacing="4.46" transform="translate(530.35,311.35) rotate(-90) scale(0.86,1)">200</text>
<text x="0" y="0" font-size="24" letter-spacing="4.83" transform="translate(562.3,286.25) rotate(-90) scale(0.86,1)">50</text>
<text x="0" y="0" font-size="24" letter-spacing="4.46" transform="translate(562.3,388.3) rotate(-90) scale(0.86,1)">200</text>
<text x="0" y="0" font-size="24" letter-spacing="2.95" transform="translate(250.4,688.7) scale(0.86,1)">Ø 165</text>
<text x="0" y="0" font-size="24" letter-spacing="2.95" transform="translate(249.35,723.1) scale(0.86,1)">Ø 125</text>
<text x="0" y="0" font-size="24" letter-spacing="3.73" transform="translate(257.15,760.25) scale(0.86,1)">Ø 99</text>
<text x="0" y="0" font-size="24" letter-spacing="1.39" transform="translate(215.25,890.2) rotate(-90) scale(0.86,1)">4 x Ø 19</text>
<text x="0" y="0" font-size="24" letter-spacing="2.8" transform="translate(301.3,887.95) scale(0.86,1)">DN 50</text>
<text x="0" y="0" font-size="24" letter-spacing="3.88" transform="translate(743.75,648.75) scale(0.86,1)">500</text>
<text x="0" y="0" font-size="24" letter-spacing="3.66" transform="translate(958.0,750.5) rotate(-90) scale(0.86,1)">50</text>
<text x="0" y="0" font-size="24" letter-spacing="3.66" transform="translate(989.0,779.5) rotate(-90) scale(0.86,1)">50</text>
<text x="0" y="0" font-size="24" letter-spacing="3.88" transform="translate(989.0,876.5) rotate(-90) scale(0.86,1)">200</text>
<text x="0" y="0" font-size="24" letter-spacing="4.86" transform="translate(706.9,987.4) rotate(-90) scale(0.86,1)">Ø18</text>
<text x="0" y="0" font-size="24" letter-spacing="4.83" transform="translate(821.45,965.5) rotate(-90) scale(0.86,1)">50</text>
</svg></body></html>
